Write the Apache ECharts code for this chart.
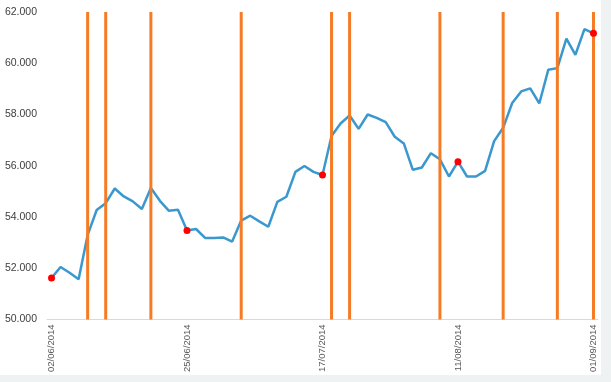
<!DOCTYPE html>
<html>
<head>
<meta charset="utf-8">
<script src="https://cdn.jsdelivr.net/npm/echarts@6/dist/echarts.min.js"></script>
<style>
html,body{margin:0;padding:0;background:#eff2f2;width:611px;height:382px;overflow:hidden;}
#c{position:absolute;left:0;top:0;width:601px;height:375px;background:#ffffff;}
</style>
</head>
<body>
<div id="c"></div>
<script>
const categories = [
 "02/06/2014","03/06/2014","04/06/2014","05/06/2014","06/06/2014","10/06/2014","11/06/2014","12/06/2014","13/06/2014","16/06/2014","17/06/2014","18/06/2014","20/06/2014","23/06/2014","24/06/2014","25/06/2014",
 "26/06/2014","27/06/2014","30/06/2014","01/07/2014","02/07/2014","03/07/2014","04/07/2014","07/07/2014","08/07/2014","09/07/2014","10/07/2014","11/07/2014","15/07/2014","16/07/2014","17/07/2014",
 "18/07/2014","22/07/2014","23/07/2014","24/07/2014","25/07/2014","28/07/2014","29/07/2014","30/07/2014","31/07/2014","04/08/2014","05/08/2014","06/08/2014","07/08/2014","08/08/2014","11/08/2014",
 "12/08/2014","13/08/2014","14/08/2014","15/08/2014","18/08/2014","19/08/2014","20/08/2014","21/08/2014","22/08/2014","25/08/2014","26/08/2014","27/08/2014","28/08/2014","29/08/2014","01/09/2014"
];
const values = [
 51.62, 52.05, 51.82, 51.57, 53.30, 54.27, 54.54, 55.11, 54.80, 54.61,
 54.31, 55.13, 54.63, 54.24, 54.28, 53.47, 53.53, 53.18, 53.18, 53.20,
 53.04, 53.86, 54.05, 53.83, 53.62, 54.59, 54.79, 55.76, 55.99, 55.76,
 55.64, 57.16, 57.65, 57.96, 57.44, 58.00, 57.87, 57.70, 57.13, 56.87,
 55.84, 55.93, 56.49, 56.25, 55.58, 56.16, 55.58, 55.58, 55.80, 56.96,
 57.48, 58.45, 58.90, 59.02, 58.43, 59.75, 59.81, 60.96, 60.33, 61.33,
 61.17
];
const markerIdx = [0, 15, 30, 45, 60];
const signalIdx = [4, 6, 11, 21, 31, 33, 43, 50, 56, 60];
const signalTop = 62;
const yMin = 50, yMax = 62, yStep = 2;

const markerData = values.map((v, i) => markerIdx.includes(i) ? v : null);
const signalData = categories.map((c, i) => signalIdx.includes(i) ? signalTop : null);

const chart = echarts.init(document.getElementById('c'), null, {renderer: 'canvas'});
chart.setOption({
  animation: false,
  backgroundColor: '#ffffff',
  grid: {left: 47, right: 3, top: 12, bottom: 54, containLabel: false},
  xAxis: {
    type: 'category',
    data: categories,
    boundaryGap: true,
    axisLine: {show: true, lineStyle: {color: '#d9d9d9', width: 1}},
    axisTick: {show: false},
    axisLabel: {
      interval: 14, rotate: 90, color: '#595959', fontSize: 9.5,
      fontFamily: 'Liberation Sans, Arial, sans-serif', margin: 5
    },
    splitLine: {show: false}
  },
  yAxis: {
    type: 'value', min: yMin, max: yMax, interval: yStep,
    axisLine: {show: false}, axisTick: {show: false},
    splitLine: {show: false},
    axisLabel: {
      color: '#404040', fontSize: 10.5, fontFamily: 'Liberation Sans, Arial, sans-serif', margin: 10,
      formatter: v => v.toFixed(3)
    }
  },
  series: [
    {
      type: 'line', data: values, symbol: 'none', z: 2,
      lineStyle: {color: '#3a98cf', width: 2.5}
    },
    {
      type: 'bar', data: signalData, barWidth: 3, z: 3,
      itemStyle: {color: '#f67b25'}, barGap: '-100%'
    },
    {
      type: 'line', data: markerData, z: 4, symbol: 'circle', symbolSize: 7,
      showSymbol: true, connectNulls: false,
      lineStyle: {width: 0, opacity: 0},
      itemStyle: {color: '#ff0000'}
    }
  ]
});
</script>
</body>
</html>
